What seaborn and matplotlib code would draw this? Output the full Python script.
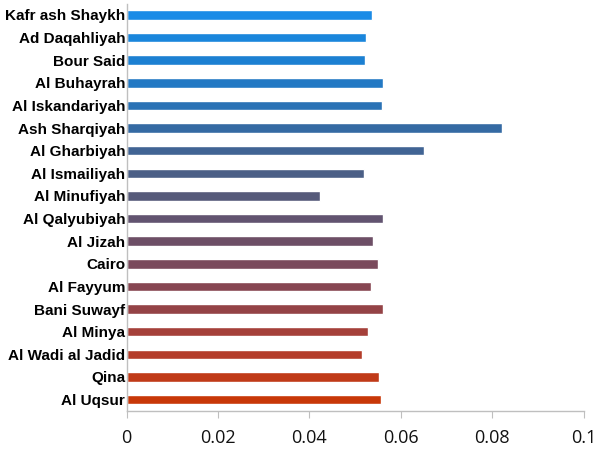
import matplotlib
matplotlib.use('Agg')
import matplotlib.pyplot as plt
import seaborn as sns
import pandas as pd

governorates = ['Kafr ash Shaykh', 'Ad Daqahliyah', 'Bour Said', 'Al Buhayrah',
                'Al Iskandariyah', 'Ash Sharqiyah', 'Al Gharbiyah', 'Al Ismailiyah',
                'Al Minufiyah', 'Al Qalyubiyah', 'Al Jizah', 'Cairo', 'Al Fayyum',
                'Bani Suwayf', 'Al Minya', 'Al Wadi al Jadid', 'Qina', 'Al Uqsur']
values = [0.0537, 0.0523, 0.0522, 0.0560, 0.0558, 0.0821, 0.0651, 0.0519,
          0.0424, 0.0561, 0.0540, 0.0550, 0.0535, 0.0561, 0.0529, 0.0514,
          0.0552, 0.0556]
bar_colors = ['#1b8be6', '#1a86dc', '#1c80d2', '#2379c4', '#2a72b5', '#356aa3',
              '#416494', '#4b5f86', '#565a7a', '#625470', '#6d4f66', '#7a4a5c',
              '#874652', '#944346', '#a5403a', '#b43d2a', '#c03a18', '#c83808']
xticks = [0, 0.02, 0.04, 0.06, 0.08, 0.1]
xticklabels = ['0', '0.02', '0.04', '0.06', '0.08', '0.1']

df = pd.DataFrame({'Governorate': governorates, 'Value': values})

sns.set_style('white')
plt.rcParams['font.family'] = ['Liberation Sans', 'DejaVu Sans']

fig = plt.figure(figsize=(6, 4.5), dpi=100)
ax = fig.add_axes([0.211, 0.087, 0.762, 0.905])
sns.barplot(data=df, x='Value', y='Governorate', hue='Governorate',
            palette=bar_colors, legend=False, width=0.42, orient='h', ax=ax,
            saturation=1)

ax.set_xlim(0, 0.1)
ax.set_xticks(xticks)
ax.set_xticklabels(xticklabels, fontsize=13, family=['Open Sans', 'DejaVu Sans'])
ax.set_xlabel('')
ax.set_ylabel('')
for lab in ax.get_yticklabels():
    lab.set_fontweight('bold')
    lab.set_fontsize(11)
ax.tick_params(axis='x', length=5, color='#bfbfbf', pad=8, direction='out',
               bottom=True, labelcolor='#111111')
ax.tick_params(axis='y', length=0, pad=1, labelcolor='black')
sns.despine(ax=ax)
for s in ['left', 'bottom']:
    ax.spines[s].set_color('#bfbfbf')
    ax.spines[s].set_linewidth(1)
ax.grid(False)

fig.savefig('out.png', dpi=100)
